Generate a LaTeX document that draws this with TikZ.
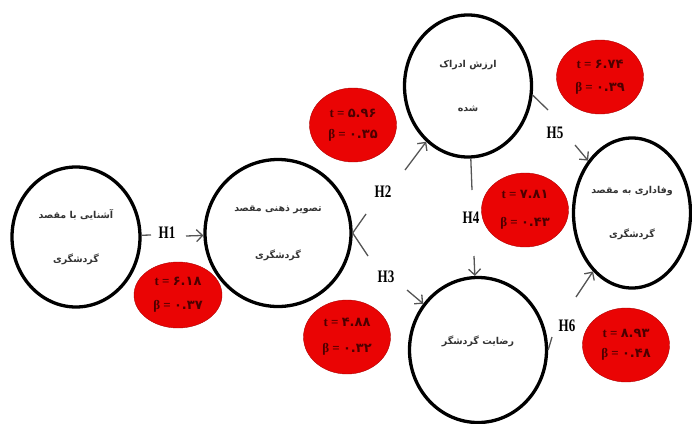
\documentclass[tikz,border=0pt]{standalone}
\usepackage{fontspec}
\usepackage{graphicx}
\usetikzlibrary{shapes.geometric,arrows.meta}
\setmainfont{Liberation Serif}
\newfontfamily\arabicfont[Script=Arabic]{DejaVu Sans}
\TeXXeTstate=1
\definecolor{nodered}{RGB}{234,4,4}
\definecolor{linegray}{RGB}{85,85,85}
\tikzset{
  construct/.style={ellipse, draw=black, line width=3.3pt, fill=white, inner sep=-14pt, align=center,
    font=\arabicfont\bfseries\fontsize{9.5}{11}\selectfont, text=black!80},
  stat/.style={ellipse, fill=nodered, draw=nodered!75!black, line width=0.4pt, inner sep=0pt,
    minimum width=87pt, minimum height=74pt, align=center, text=black!70!red,
    font=\fontsize{13}{14}\selectfont\bfseries},
  hyp/.style={font=\fontsize{13}{13}\selectfont\bfseries, inner sep=0pt},
  link/.style={draw=linegray, line width=1.3pt},
  linkarrow/.style={link, -{Straight Barb[length=6pt,width=12pt]}},
}
\begin{document}
\begin{tikzpicture}[x=1pt,y=-1pt]
\useasboundingbox (0,0) rectangle (692,423);
% constructs
\node[construct, minimum width=128pt, minimum height=140pt] (c1) at (76,237)
  {\beginR آشنایی با مقصد\endR\\[33pt]\beginR گردشگری\endR};
\node[construct, minimum width=146pt, minimum height=147pt] (c2) at (278,233)
  {\beginR تصویر ذهنی مقصد\endR\\[36pt]\beginR گردشگری\endR};
\node[construct, minimum width=127pt, minimum height=142pt] (c3) at (468,86)
  {\beginR ارزش ادراک\endR\\[33pt]\beginR شده\endR};
\node[construct, minimum width=117pt, minimum height=150pt] (c4) at (632,213)
  {\beginR وفاداری به مقصد\endR\\[33pt]\beginR گردشگری\endR};
\node[construct, minimum width=137pt, minimum height=145pt] (c5) at (478,350)
  {\beginR رضایت گردشگر\endR\\[8pt]\mbox{}};
% statistics
\node[stat, minimum width=88pt, minimum height=66pt] (r1) at (178,295)
  {t = {\arabicfont ۶.۱۸}\\[10pt]β = {\arabicfont ۰.۳۷}};
\node[stat] (r2) at (353,125) {t = {\arabicfont ۵.۹۶}\\[7pt]β = {\arabicfont ۰.۳۵}};
\node[stat] (r3) at (347,337) {t = {\arabicfont ۴.۸۸}\\[12pt]β = {\arabicfont ۰.۳۲}};
\node[stat] (r4) at (525,210) {t = {\arabicfont ۷.۸۱}\\[14pt]β = {\arabicfont ۰.۴۳}};
\node[stat] (r5) at (600,77) {t = {\arabicfont ۶.۷۴}\\[9pt]β = {\arabicfont ۰.۳۹}};
\node[stat] (r6) at (626,345) {t = {\arabicfont ۸.۹۳}\\[6pt]β = {\arabicfont ۰.۴۸}};
% hypothesis labels
\node[hyp] (h1) at (167,233) {\scalebox{1}[1.35]{H1}};
\node[hyp] (h2) at (383,192) {\scalebox{1}[1.35]{H2}};
\node[hyp] (h3) at (386,277) {\scalebox{1}[1.35]{H3}};
\node[hyp] (h4) at (471,218) {\scalebox{1}[1.35]{H4}};
\node[hyp] (h5) at (555,133) {\scalebox{1}[1.35]{H5}};
\node[hyp] (h6) at (567,326) {\scalebox{1}[1.35]{H6}};
% free ends of the connectors
\coordinate (h1a) at (151,235); \coordinate (h1b) at (186,236);
\coordinate (h2a) at (366,214); \coordinate (h2b) at (405,170);
\coordinate (h3a) at (368,256); \coordinate (h3b) at (407,290);
\coordinate (h4a) at (472,190); \coordinate (h4b) at (474,256);
\coordinate (h5a) at (548,110); \coordinate (h5b) at (575,145);
\coordinate (h6a) at (552,337); \coordinate (h6b) at (576,297);
% connectors
\draw[link] (c1) -- (h1a);
\draw[linkarrow] (h1b) -- (c2);
\draw[link] (c2.east) -- (h2a);
\draw[linkarrow] (h2b) -- (c3);
\draw[link] (c2.east) -- (h3a);
\draw[linkarrow] (h3b) -- (c5);
\draw[link] (c3) -- (h4a);
\draw[linkarrow] (h4b) -- (c5);
\draw[link] (c3.-8) -- (h5a);
\draw[linkarrow] (h5b) -- (c4);
\draw[link] (c5.east) -- (h6a);
\draw[linkarrow] (h6b) -- (c4);
\end{tikzpicture}
\end{document}
